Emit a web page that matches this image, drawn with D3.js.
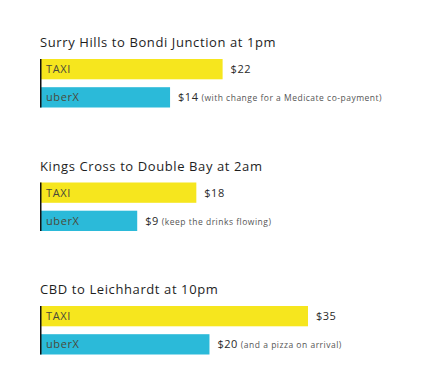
<!DOCTYPE html>
<html>
<head>
<meta charset="utf-8">
<script src="https://cdn.jsdelivr.net/npm/d3@7"></script>
<style>
  body { margin: 0; background: #fff; }
  text { font-family: "Open Sans", "DejaVu Sans", sans-serif; }
</style>
</head>
<body>
<div id="wrapper"></div>
<script>
// trips, one per group
const trips = ["Surry Hills to Bondi Junction at 1pm", "Kings Cross to Double Bay at 2am", "CBD to Leichhardt at 10pm"]
const services = ["TAXI", "uberX"]
const taxiFares = [22, 18, 35]
const uberFares = [14, 9, 20]
const notes = ["(with change for a Medicate co-payment)", "(keep the drinks flowing)", "(and a pizza on arrival)"]

function draw() {
    const dimension = { width: 423, height: 389, left: 40, top: 59 }

    const svg = d3.select("#wrapper")
        .append("svg")
        .attr("width", dimension.width)
        .attr("height", dimension.height)

    // bar lengths in the picture are not proportional, so the zero sits left of the axis
    const x = d3.scaleLinear().domain([-5.8, 35]).range([0, 268])
    const groupY = d3.scaleLinear().domain([0, 1]).range([dimension.top, dimension.top + 123.5])
    const barY = d3.scaleBand().domain(services).range([0, 48.5]).paddingInner(0.28)
    const colors = d3.scaleOrdinal().domain(services).range(["#f6e61e", "#2bbad9"])

    const data = trips.map((t, i) => ({
        title: t,
        bars: [
            { service: "TAXI", value: taxiFares[i] },
            { service: "uberX", value: uberFares[i], note: notes[i] }
        ]
    }))

    const groups = svg.selectAll("g.trip")
        .data(data)
        .enter()
        .append("g")
        .attr("class", "trip")
        .attr("transform", (d, i) => `translate(${dimension.left},${groupY(i)})`)

    groups.append("text")
        .attr("x", 0)
        .attr("y", -12)
        .style("font-size", "13px")
        .style("letter-spacing", "0.6px")
        .style("fill", "#1e1e1e")
        .text(d => d.title)

    const bars = groups.selectAll("g.bar")
        .data(d => d.bars)
        .enter()
        .append("g")
        .attr("class", "bar")
        .attr("transform", d => `translate(0,${barY(d.service)})`)

    bars.append("rect")
        .attr("x", 0)
        .attr("y", 0)
        .attr("width", d => x(d.value))
        .attr("height", barY.bandwidth())
        .style("fill", d => colors(d.service))

    bars.append("text")
        .attr("x", 6)
        .attr("y", barY.bandwidth() / 2 + 4)
        .style("font-size", "11px")
        .style("letter-spacing", "0.6px")
        .style("fill", "#4a4a3a")
        .text(d => d.service)

    const labels = bars.append("text")
        .attr("x", d => x(d.value) + 8)
        .attr("y", barY.bandwidth() / 2 + 4)
        .style("font-size", "11px")
        .style("letter-spacing", "0.5px")
        .style("fill", "#2a2a2a")

    labels.append("tspan")
        .text(d => "$" + d.value)

    labels.filter(d => d.note)
        .append("tspan")
        .attr("dx", 3)
        .style("font-size", "8.5px")
        .style("letter-spacing", "0.5px")
        .style("fill", "#555")
        .text(d => d.note)

    // left axis line
    groups.append("line")
        .attr("x1", 0.75)
        .attr("x2", 0.75)
        .attr("y1", 0)
        .attr("y2", barY("uberX") + barY.bandwidth())
        .style("stroke", "#111")
        .style("stroke-width", 1.5)
}

draw()
</script>
</body>
</html>
